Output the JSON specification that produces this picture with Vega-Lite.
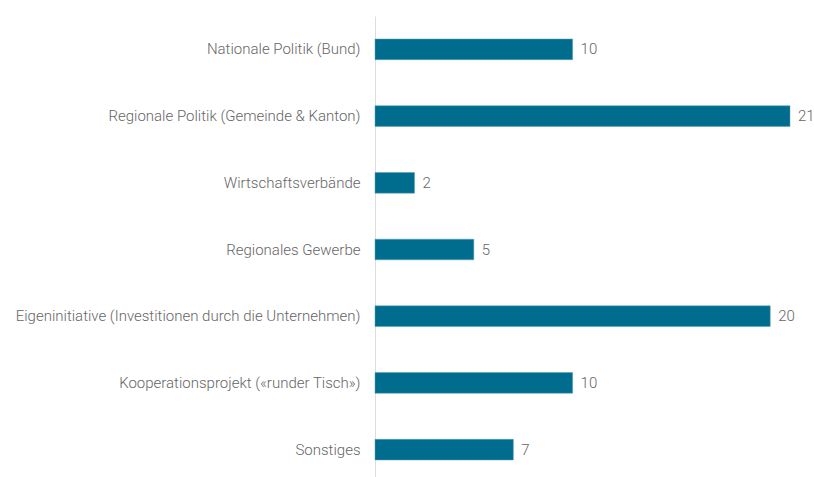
{
  "$schema": "https://vega.github.io/schema/vega-lite/v6.json",
  "width": 415,
  "height": 467,
  "autosize": {"type": "none"},
  "padding": {"left": 375, "top": 16, "right": 24, "bottom": 0},
  "background": "white",
  "config": {"view": {"stroke": null}, "font": "Roboto"},
  "data": {
    "values": [
      {"kategorie": "Nationale Politik (Bund)", "wert": 10},
      {"kategorie": "Regionale Politik (Gemeinde & Kanton)", "wert": 21},
      {"kategorie": "Wirtschaftsverbände", "wert": 2},
      {"kategorie": "Regionales Gewerbe", "wert": 5},
      {"kategorie": "Eigeninitiative (Investitionen durch die Unternehmen)", "wert": 20},
      {"kategorie": "Kooperationsprojekt («runder Tisch»)", "wert": 10},
      {"kategorie": "Sonstiges", "wert": 7}
    ]
  },
  "encoding": {
    "y": {
      "field": "kategorie",
      "type": "nominal",
      "sort": null,
      "scale": {"paddingInner": 0.69, "paddingOuter": 0.345},
      "axis": {
        "title": null,
        "ticks": false,
        "domainColor": "#dddddd",
        "domainWidth": 1,
        "labelFont": "Roboto",
        "labelFontWeight": 300,
        "labelFontSize": 15,
        "labelColor": "#666666",
        "labelPadding": 15,
        "labelLimit": 400
      }
    },
    "x": {
      "field": "wert",
      "type": "quantitative",
      "scale": {"domain": [0, 21], "nice": false},
      "axis": null
    }
  },
  "layer": [
    {"mark": {"type": "bar", "color": "#006d8f", "stroke": "#5b9fb5", "strokeWidth": 0.5}},
    {
      "mark": {"type": "text", "align": "left", "baseline": "middle", "dx": 8, "font": "Roboto", "fontWeight": 300, "fontSize": 15, "color": "#666666"},
      "encoding": {"text": {"field": "wert", "type": "quantitative"}}
    }
  ]
}
